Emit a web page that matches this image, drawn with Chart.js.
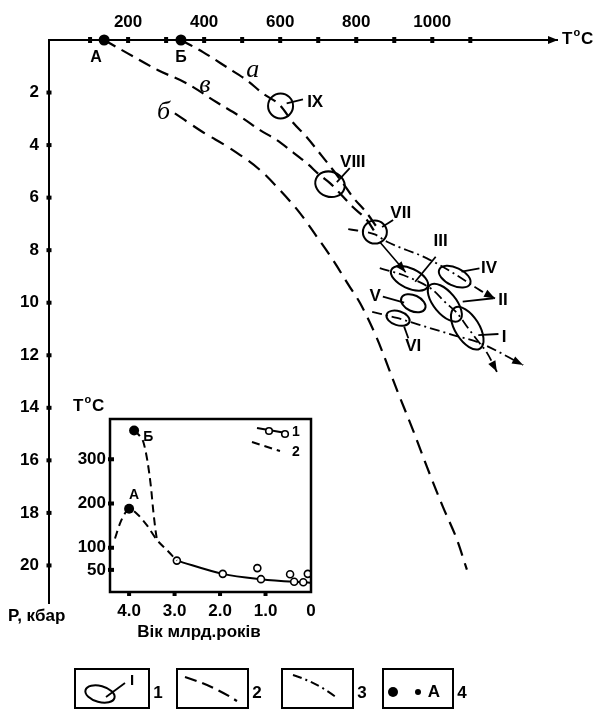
<!DOCTYPE html>
<html><head><meta charset="utf-8">
<script src="https://cdn.jsdelivr.net/npm/chart.js@4.4.1/dist/chart.umd.min.js"></script>
<style>
html,body{margin:0;padding:0;background:#fff;}
#wrap{position:relative;width:594px;height:713px;background:#fff;}
canvas{position:absolute;left:0;top:0;}
</style></head><body>
<div id="wrap"><canvas id="main" width="594" height="713"></canvas><canvas id="inset" width="594" height="713"></canvas></div>
<script>
// ---------- main diagram data (T °C, P kbar) ----------
const tempTickValues = [100,200,300,400,500,600,700,800,900,1000,1100];
const tempLabelValues = [200,400,600,800,1000];
const pressureTicks = [2,4,6,8,10,12,14,16,18,20];

const curveA = [[339,0],[397,0.46],[460,1.04],[512,1.53],[554,2.03],[599,2.48],[633,3.13],[670,3.70],[704,4.31],[739,4.95],[765,5.45],[791,5.98],[828,6.59],[854,7.12]];
const curveV = [[137,0],[199,0.51],[279,1.15],[354,1.65],[433,2.37],[502,2.98],[547,3.43],[591,3.81],[626,4.19],[670,4.69],[704,5.14],[731,5.45],[757,5.83],[791,6.36],[828,6.85],[849,7.31]];
const curveB = [[323,2.79],[397,3.51],[468,4.12],[547,4.95],[599,5.71],[652,6.59],[697,7.50],[739,8.38],[783,9.40],[810,10.01],[854,11.34],[907,13.32],[949,14.84],[986,16.25],[1028,17.77],[1065,19.02],[1091,20.16]];
const trend1 = [[779,7.20],[849,7.40],[881,7.68],[986,8.31],[1055,8.87],[1125,9.52],[1165,9.84]];
const trend2 = [[862,8.68],[936,9.02],[1002,9.52],[1033,9.97],[1065,10.39],[1094,10.96],[1118,11.42],[1144,11.91],[1170,12.63]];
const trend3 = [[842,10.35],[907,10.58],[950,10.77],[1055,11.23],[1125,11.53],[1239,12.37]];
const arrowVII = [[862,7.69],[930,8.84]];
const startPoints = [[137,0],[339,0]];
const startPointNames = ['А','Б'];

const ellipseNames = ['IX','VIII','VII','III','IV','II','I','V','VI'];
const ellipseCentres = [[601,2.51],[731,5.49],[849,7.31],[940,9.07],[1059,9.01],[1033,10.0],[1092,10.97],[950,10.02],[910,10.59]];
const ellipseLabelPos = [[692,2.37],[791,4.65],[917,6.60],[1022,7.68],[1149,8.69],[1186,9.90],[1189,11.32],[850,9.76],[950,11.67]];
const leaderLines = [
  [[617,2.41],[660,2.26]], [[749,5.41],[783,4.88]], [[868,7.12],[897,6.85]],
  [[1009,8.25],[955,9.20]], [[1077,8.82],[1124,8.69]], [[1080,9.96],[1161,9.83]],
  [[1121,11.23],[1174,11.19]], [[870,9.77],[926,10.0]], [[926,10.91],[937,11.35]]
];
const curveLetters = ['а','в','б'];
const curveLetterPos = [[528,1.15],[402,1.72],[293,2.74]];

// ---------- inset data (age Ga, T °C) ----------
const ageTicks = [0,1,2,3,4];
const insetTempTicks = [50,100,200,300];
const insetCurveB = [[3.89,365],[3.76,352],[3.69,340],[3.60,298],[3.52,238],[3.47,185],[3.41,133],[3.38,114]];
const insetCurveA = [[4.31,121],[4.20,155],[4.09,178],[4.0,188],[3.80,174],[3.61,151],[3.39,118],[3.17,95],[2.95,71]];
const insetSolid = [[2.95,71],[1.94,41],[1.10,29],[0.37,23],[0.17,22],[0.02,21]];
const insetSolidMarked = [true,true,true,true,true,false];
const insetLoose = [[1.18,54],[0.46,40],[0.07,41]];
const insetDots = [[4.0,188],[3.89,365]];
const insetDotNames = ['А','Б'];
const insetDotLabelPos = [[3.89,219],[3.58,351]];

// ---------- styles ----------
const F = '"Liberation Sans", Arial, sans-serif';
const bold = s => 'bold ' + s + 'px ' + F;
const ellipseShape = [[12.5,12.5,0],[15,12.5,20],[12,11.5,0],[20,10,25],[17,9,25],[23,11,50],[24,12,58],[13,8,25],[12,7,18]];
const startLabelOffset = [[-8,18],[0,18]];
const toXY = a => a.map(p => ({x:p[0], y:p[1]}));
const fixedTicks = list => scale => { scale.ticks = list.map(v => ({value:v})); };

function drawArrow(ctx, ax, ay, bx, by, len, hw){
  const ang = Math.atan2(by-ay, bx-ax);
  const c = Math.cos(ang), s = Math.sin(ang);
  ctx.beginPath();
  ctx.moveTo(bx, by);
  ctx.lineTo(bx - len*c - hw*s, by - len*s + hw*c);
  ctx.lineTo(bx - len*c + hw*s, by - len*s - hw*c);
  ctx.closePath();
  ctx.fill();
}
function supLabel(ctx, x, y, size){
  ctx.textAlign='left'; ctx.textBaseline='middle';
  ctx.font = bold(size); ctx.fillText('T', x, y);
  let w = ctx.measureText('T').width;
  ctx.font = bold(Math.round(size*0.62)); ctx.fillText('o', x+w+1, y-6);
  let w2 = ctx.measureText('o').width;
  ctx.font = bold(size); ctx.fillText('C', x+w+w2+2, y);
}

function lineDs(arr, dash, width, arrow){
  return {data: toXY(arr), showLine:true, borderColor:'#000', borderWidth:width, borderDash:dash,
          pointRadius:0, cubicInterpolationMode:'monotone', arrow:arrow, clip:false};
}

const mainPlugin = {
  id:'mainDeco',
  afterDatasetsDraw(chart){
    const ctx = chart.ctx, xs = chart.scales.x, ys = chart.scales.y, ca = chart.chartArea;
    const px = p => [xs.getPixelForValue(p[0]), ys.getPixelForValue(p[1])];
    ctx.save();
    ctx.fillStyle = '#000'; ctx.strokeStyle = '#000';
    // dataset arrows
    chart.data.datasets.forEach((ds,i) => {
      if(!ds.arrow) return;
      const pts = chart.getDatasetMeta(i).data;
      const a = pts[pts.length-2], b = pts[pts.length-1];
      drawArrow(ctx, a.x, a.y, b.x, b.y, 11, 4);
    });
    // ellipses
    ctx.lineWidth = 2; ctx.setLineDash([]);
    ellipseCentres.forEach((c,i) => {
      const [x,y] = px(c); const sh = ellipseShape[i];
      ctx.beginPath(); ctx.ellipse(x, y, sh[0], sh[1], sh[2]*Math.PI/180, 0, Math.PI*2); ctx.stroke();
    });
    // leader lines
    ctx.lineWidth = 1.8;
    leaderLines.forEach(l => {
      const a = px(l[0]), b = px(l[1]);
      ctx.beginPath(); ctx.moveTo(a[0],a[1]); ctx.lineTo(b[0],b[1]); ctx.stroke();
    });
    // ellipse labels
    ctx.font = bold(17); ctx.textAlign='center'; ctx.textBaseline='middle';
    ellipseLabelPos.forEach((p,i) => { const [x,y] = px(p); ctx.fillText(ellipseNames[i], x, y); });
    // curve letters
    ctx.font = 'italic 26px "Liberation Serif", "DejaVu Serif", serif';
    curveLetterPos.forEach((p,i) => { const [x,y] = px(p); ctx.fillText(curveLetters[i], x, y); });
    // start point names
    ctx.font = bold(16);
    startPoints.forEach((p,i) => { const [x,y] = px(p); ctx.fillText(startPointNames[i], x+startLabelOffset[i][0], y+startLabelOffset[i][1]); });
    // tick marks
    tempTickValues.forEach(v => { const x = xs.getPixelForValue(v); ctx.fillRect(x-2, ca.top-3, 4, 6); });
    pressureTicks.forEach(v => { const y = ys.getPixelForValue(v); ctx.fillRect(ca.left-2.5, y-2, 5, 4); });
    // axis arrow and title
    drawArrow(ctx, ca.right-20, ca.top, ca.right+1, ca.top, 10, 4);
    supLabel(ctx, ca.right+5, ca.top-1, 17);
    ctx.font = bold(17); ctx.textAlign='left'; ctx.textBaseline='middle';
    ctx.fillText('P, кбар', 8, 616);
    // bottom legend
    const top = 669, bot = 708;
    const boxes = [[75,149],[177,248],[282,353],[383,453]];
    ctx.lineWidth = 2;
    boxes.forEach(b => ctx.strokeRect(b[0], top, b[1]-b[0], bot-top));
    // box 1: ellipse with label
    ctx.beginPath(); ctx.ellipse(100, 694, 15, 8, 15*Math.PI/180, 0, Math.PI*2); ctx.stroke();
    ctx.lineWidth = 1.8;
    ctx.beginPath(); ctx.moveTo(106, 697); ctx.lineTo(125, 683); ctx.stroke();
    ctx.font = bold(15); ctx.textAlign='center'; ctx.fillText('I', 132, 681);
    // box 2: dashed
    ctx.lineWidth = 2.2; ctx.setLineDash([12,6]);
    ctx.beginPath(); ctx.moveTo(185, 677); ctx.quadraticCurveTo(214, 686, 237, 701); ctx.stroke();
    // box 3: dash-dot
    ctx.lineWidth = 2; ctx.setLineDash([9,4,2,4]);
    ctx.beginPath(); ctx.moveTo(293, 675); ctx.quadraticCurveTo(318, 683, 337, 698); ctx.stroke();
    ctx.setLineDash([]);
    // box 4: dots
    ctx.beginPath(); ctx.arc(393, 692, 5, 0, Math.PI*2); ctx.fill();
    ctx.beginPath(); ctx.arc(418, 692, 3, 0, Math.PI*2); ctx.fill();
    ctx.font = bold(17); ctx.textAlign='center'; ctx.fillText('A', 434, 692);
    // legend numbers
    ['1','2','3','4'].forEach((t,i) => ctx.fillText(t, boxes[i][1]+9, 693));
    ctx.restore();
  }
};

new Chart(document.getElementById('main'), {
  type:'scatter',
  data:{datasets:[
    lineDs(curveA, [13,7], 2.2, false),
    lineDs(curveV, [13,7], 2.2, false),
    lineDs(curveB, [14,8], 2.2, false),
    lineDs(trend1, [10,4,2,4], 1.8, true),
    lineDs(trend2, [10,4,2,4], 1.8, true),
    lineDs(trend3, [10,4,2,4], 1.8, true),
    lineDs(arrowVII, [], 1.6, true),
    {data: toXY(startPoints), showLine:false, pointRadius:5.5, pointBackgroundColor:'#000', pointBorderWidth:0, clip:false}
  ]},
  options:{
    responsive:false, animation:false, events:[], devicePixelRatio:1,
    layout:{padding:{left:0, top:0, right:37, bottom:110}},
    plugins:{legend:{display:false}, tooltip:{enabled:false}},
    scales:{
      x:{type:'linear', position:'top', min:-8, max:1328,
         afterBuildTicks: fixedTicks(tempTickValues), afterFit(s){ s.height = 40; },
         grid:{display:false, drawTicks:false}, border:{display:true, color:'#000', width:2},
         ticks:{autoSkip:false, maxRotation:0, padding:7, color:'#000', font:{family:F, size:17, weight:'bold'},
                callback: v => tempLabelValues.includes(v) ? String(v) : ''}},
      y:{type:'linear', position:'left', reverse:true, min:0, max:21.43,
         afterBuildTicks: fixedTicks(pressureTicks), afterFit(s){ s.width = 49; },
         grid:{display:false, drawTicks:false}, border:{display:true, color:'#000', width:2},
         ticks:{autoSkip:false, padding:10, color:'#000', font:{family:F, size:17, weight:'bold'}}}
    }
  },
  plugins:[mainPlugin]
});

const insetPlugin = {
  id:'insetDeco',
  afterDatasetsDraw(chart){
    const ctx = chart.ctx, xs = chart.scales.x, ys = chart.scales.y, ca = chart.chartArea;
    const px = p => [xs.getPixelForValue(p[0]), ys.getPixelForValue(p[1])];
    ctx.save();
    ctx.fillStyle='#000'; ctx.strokeStyle='#000';
    ctx.lineWidth = 2.5;
    ctx.strokeRect(ca.left, ca.top, ca.right-ca.left, ca.bottom-ca.top);
    insetTempTicks.forEach(v => { const y = ys.getPixelForValue(v); ctx.fillRect(ca.left-2, y-2, 6, 4); });
    ageTicks.forEach(v => { const x = xs.getPixelForValue(v); if (v>0) ctx.fillRect(x-2, ca.bottom-1, 4, 5); });
    ctx.font = bold(14); ctx.textAlign='center'; ctx.textBaseline='middle';
    insetDotLabelPos.forEach((p,i) => { const [x,y] = px(p); ctx.fillText(insetDotNames[i], x, y); });
    // legend inside
    const r = ca.right, t = ca.top;
    ctx.lineWidth = 2; ctx.setLineDash([]);
    ctx.beginPath(); ctx.moveTo(r-54, t+9); ctx.lineTo(r-25, t+14); ctx.stroke();
    ctx.fillStyle='#fff'; ctx.lineWidth=1.6;
    [[r-42,t+12],[r-26,t+15]].forEach(c => { ctx.beginPath(); ctx.arc(c[0], c[1], 3.3, 0, Math.PI*2); ctx.fill(); ctx.stroke(); });
    ctx.fillStyle='#000'; ctx.lineWidth = 2; ctx.setLineDash([8,5]);
    ctx.beginPath(); ctx.moveTo(r-59, t+23); ctx.lineTo(r-31, t+32); ctx.stroke();
    ctx.setLineDash([]);
    ctx.font = bold(14);
    ctx.fillText('1', r-15, t+13);
    ctx.fillText('2', r-15, t+33);
    supLabel(ctx, 73, 406, 17);
    ctx.font = bold(17); ctx.textAlign='center'; ctx.textBaseline='middle';
    ctx.fillText('Вік млрд.років', 199, 632);
    ctx.restore();
  }
};

new Chart(document.getElementById('inset'), {
  type:'scatter',
  data:{datasets:[
    {data: toXY(insetCurveB), showLine:true, borderColor:'#000', borderWidth:2, borderDash:[8,5], pointRadius:0, cubicInterpolationMode:'monotone'},
    {data: toXY(insetCurveA), showLine:true, borderColor:'#000', borderWidth:2, borderDash:[8,5], pointRadius:0, cubicInterpolationMode:'monotone'},
    {data: toXY(insetSolid), showLine:true, borderColor:'#000', borderWidth:2, cubicInterpolationMode:'monotone',
     pointRadius: insetSolidMarked.map(m => m ? 3.5 : 0), pointBackgroundColor:'#fff', pointBorderColor:'#000', pointBorderWidth:1.6},
    {data: toXY(insetLoose), showLine:false, pointRadius:3.5, pointBackgroundColor:'#fff', pointBorderColor:'#000', pointBorderWidth:1.6},
    {data: toXY(insetDots), showLine:false, pointRadius:5, pointBackgroundColor:'#000', pointBorderWidth:0, clip:false}
  ]},
  options:{
    responsive:false, animation:false, events:[], devicePixelRatio:1,
    layout:{padding:{left:0, top:419, right:283, bottom:0}},
    plugins:{legend:{display:false}, tooltip:{enabled:false}},
    scales:{
      x:{type:'linear', position:'bottom', reverse:true, min:0, max:4.42,
         afterBuildTicks: fixedTicks(ageTicks), afterFit(s){ s.height = 121; },
         grid:{display:false, drawTicks:false}, border:{display:false},
         ticks:{autoSkip:false, maxRotation:0, padding:9, color:'#000', font:{family:F, size:17, weight:'bold'},
                callback: v => v === 0 ? '0' : v.toFixed(1)}},
      y:{type:'linear', position:'left', min:0, max:391,
         afterBuildTicks: fixedTicks(insetTempTicks), afterFit(s){ s.width = 110; },
         grid:{display:false, drawTicks:false}, border:{display:false},
         ticks:{autoSkip:false, padding:4, color:'#000', font:{family:F, size:17, weight:'bold'}}}
    }
  },
  plugins:[insetPlugin]
});
</script>
</body></html>
